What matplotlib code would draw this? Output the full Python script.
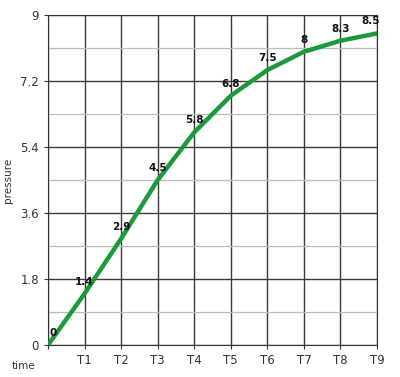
import matplotlib.pyplot as plt
import numpy as np

times = ['', 'T1', 'T2', 'T3', 'T4', 'T5', 'T6', 'T7', 'T8', 'T9']
pressure = [0, 1.4, 2.9, 4.5, 5.8, 6.8, 7.5, 8, 8.3, 8.5]
y_ticks = [0, 1.8, 3.6, 5.4, 7.2, 9]

fig = plt.figure(figsize=(4, 3.77), dpi=100)
ax = fig.add_axes([0.12, 0.085, 0.8225, 0.875])

x = np.arange(len(times))
ax.plot(x, pressure, color='#1b9a3c', linewidth=3.2, solid_joinstyle='round',
        solid_capstyle='round', zorder=3)

for i, v in enumerate(pressure):
    label = f'{v:g}'
    ha = 'right' if i == len(pressure) - 1 else 'center'
    dx = 2 if i == len(pressure) - 1 else (4 if i == 0 else 0)
    ax.annotate(label, (i, v), xytext=(dx, 5), textcoords='offset points',
                ha=ha, va='bottom', fontsize=7.5, fontweight='bold', color='#111')

ax.set_xlim(0, 9)
ax.set_ylim(0, 9)
ax.set_xticks(x)
ax.set_xticklabels(times)
ax.set_yticks(y_ticks)
ax.set_yticklabels([f'{t:g}' for t in y_ticks])
ax.set_yticks(np.arange(0.9, 9, 1.8), minor=True)

ax.grid(which='major', color='#3a3a3a', linewidth=1)
ax.grid(which='minor', axis='y', color='#bbbbbb', linewidth=0.9)
ax.tick_params(axis='both', which='major', labelsize=8.5, colors='#333333', length=3)
ax.tick_params(axis='y', which='minor', length=0)
for s in ax.spines.values():
    s.set_color('#333333')

ax.set_ylabel('pressure', fontsize=7.5, color='#333333', labelpad=5)
fig.text(0.03, 0.02, 'time', fontsize=7.5, color='#333333')

plt.savefig('out.png', dpi=100)
